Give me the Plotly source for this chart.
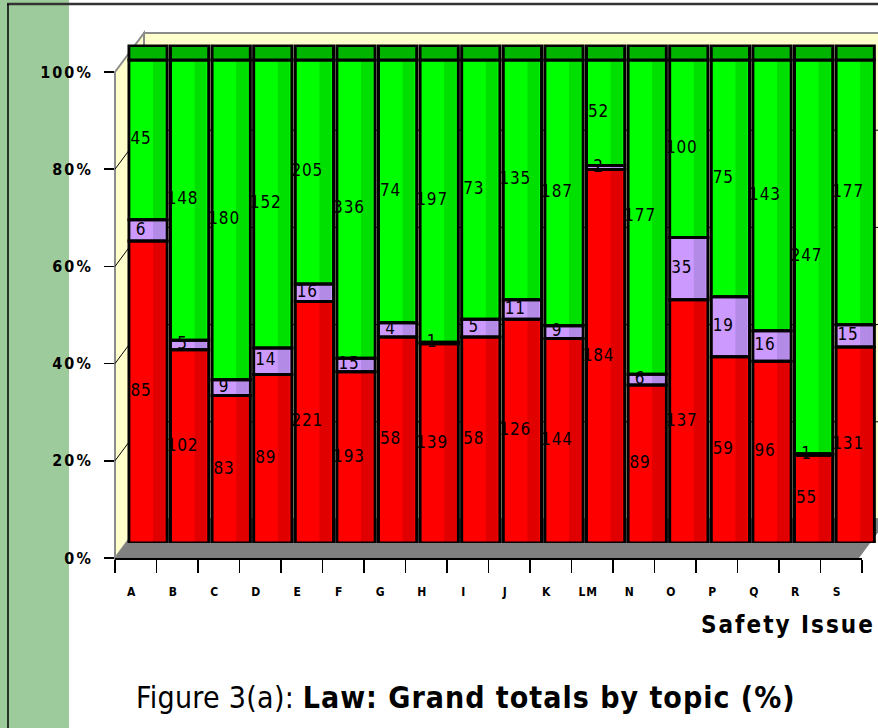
import plotly.graph_objects as go

# ---------------- data ----------------
categories = ["A", "B", "C", "D", "E", "F", "G", "H", "I", "J", "K", "LM",
              "N", "O", "P", "Q", "R", "S"]
red_vals = [85, 102, 83, 89, 221, 193, 58, 139, 58, 126, 144, 184, 89, 137, 59, 96, 55, 131]
lav_vals = [6, 5, 9, 14, 16, 15, 4, 1, 5, 11, 9, 2, 6, 35, 19, 16, 1, 15]
green_vals = [45, 148, 180, 152, 205, 336, 74, 197, 73, 135, 187, 52, 177, 100, 75, 143, 247, 177]
y_ticks = [0, 20, 40, 60, 80, 100]

W, H = 878, 728
NARROW = "DejaVu Sans Condensed, Liberation Sans Narrow, Arial Narrow, sans-serif"


def px(x):
    return x / W


def py(y):
    return 1 - y / H


def spaced(s, sp):
    return f'<span style="letter-spacing:{sp}px">{s}</span>'


n = len(categories)
idx = list(range(n))
totals = [r + l + g for r, l, g in zip(red_vals, lav_vals, green_vals)]
red_p = [r / t * 100 for r, t in zip(red_vals, totals)]
lav_p = [l / t * 100 for l, t in zip(lav_vals, totals)]
grn_p = [g / t * 100 for g, t in zip(green_vals, totals)]
lav_b = red_p
grn_b = [a + b for a, b in zip(red_p, lav_p)]

series = [
    (red_p, [0] * n, red_vals, "#ff0000", "#e00000"),
    (lav_p, lav_b, lav_vals, "#cc99ff", "#b38ae6"),
    (grn_p, grn_b, green_vals, "#00ff00", "#00e000"),
]

fig = go.Figure()
BW = 0.92
for vals, base, raw, col, dark in series:
    fig.add_trace(go.Bar(x=idx, y=vals, base=base, width=BW, marker=dict(color=col, line=dict(width=0)),
                         hoverinfo="skip", showlegend=False))
for vals, base, raw, col, dark in series:
    fig.add_trace(go.Bar(x=idx, y=vals, base=base, width=0.28, offset=0.12,
                         marker=dict(color=dark, line=dict(width=0)),
                         hoverinfo="skip", showlegend=False))
for vals, base, raw, col, dark in series:
    fig.add_trace(go.Bar(x=idx, y=vals, base=base, width=BW,
                         marker=dict(color="rgba(0,0,0,0)", line=dict(width=3, color="black")),
                         hoverinfo="skip", showlegend=False))
fig.add_trace(go.Bar(x=idx, y=[3.0] * n, base=[100] * n, width=BW,
                     marker=dict(color="#00b400", line=dict(width=3, color="black")),
                     hoverinfo="skip", showlegend=False))
for vals, base, raw, col, dark in series:
    fig.add_trace(go.Scatter(
        x=[i - 0.17 for i in idx], y=[b + v / 2 for b, v in zip(base, vals)],
        mode="text", text=[spaced(str(r), 0.8) for r in raw],
        textposition="middle center",
        textfont=dict(family=NARROW, size=17, color="black"),
        hoverinfo="skip", showlegend=False, cliponaxis=False))

fig.add_trace(go.Scatter(x=[None], y=[None], xaxis="x2", yaxis="y2", mode="markers",
                         showlegend=False, hoverinfo="skip"))

# ---------------- geometry ----------------
front_x0, front_y0, front_ytop = 115, 558, 72
dx, dy = 29, 39
ppp = (front_y0 - front_ytop) / 100.0
bar_y0 = 543
bar_ppp = 4.83
yr_top = 103.2

shapes = []
shapes.append(dict(type="rect", xref="paper", yref="paper", x0=0, x1=px(69), y0=0, y1=1,
                   fillcolor="#9ecb9b", line=dict(width=0), layer="below"))
shapes.append(dict(type="line", xref="paper", yref="paper", x0=px(7), x1=1, y0=py(4), y1=py(4),
                   line=dict(color="#333333", width=2.5), layer="above"))
shapes.append(dict(type="line", xref="paper", yref="paper", x0=px(8), x1=px(8), y0=py(4), y1=0,
                   line=dict(color="black", width=1.5), layer="above"))
shapes.append(dict(type="rect", xref="paper", yref="paper", x0=px(front_x0 + dx), x1=px(W + 5),
                   y0=py(front_y0 - dy), y1=py(front_ytop - dy),
                   fillcolor="#ffffcc", line=dict(color="#8c8c8c", width=2), layer="below"))
shapes.append(dict(type="path", xref="paper", yref="paper",
                   path=f"M{px(front_x0)},{py(front_ytop)} L{px(front_x0+dx)},{py(front_ytop-dy)} "
                        f"L{px(front_x0+dx)},{py(front_y0-dy)} L{px(front_x0)},{py(front_y0)} Z",
                   fillcolor="#ffffcc", line=dict(color="#8c8c8c", width=2), layer="below"))
shapes.append(dict(type="path", xref="paper", yref="paper",
                   path=f"M{px(front_x0)},{py(front_y0)} L{px(859)},{py(front_y0)} "
                        f"L{px(859+dx)},{py(front_y0-dy)} L{px(front_x0+dx)},{py(front_y0-dy)} Z",
                   fillcolor="#808080", line=dict(width=0), layer="below"))
for t in y_ticks[1:-1]:
    yf = front_y0 - ppp * t
    shapes.append(dict(type="line", xref="paper", yref="paper", x0=px(front_x0), y0=py(yf),
                       x1=px(front_x0 + dx), y1=py(yf - dy), line=dict(color="black", width=1), layer="below"))
    shapes.append(dict(type="line", xref="paper", yref="paper", x0=px(front_x0 + dx), y0=py(yf - dy),
                       x1=1, y1=py(yf - dy), line=dict(color="black", width=1), layer="below"))

slot = 41.6
bar_x0 = 148 - slot / 2
bar_x1 = bar_x0 + slot * n
fx_slot = 41.5
fx1 = front_x0 + fx_slot * n

fig.update_layout(
    width=W, height=H,
    margin=dict(l=0, r=0, t=0, b=0, autoexpand=False),
    paper_bgcolor="white", plot_bgcolor="rgba(0,0,0,0)",
    barmode="overlay",
    shapes=shapes,
    xaxis=dict(domain=[px(bar_x0), min(1, px(bar_x1))], range=[-0.5, -0.5 + (min(W, bar_x1) - bar_x0) / slot],
               visible=False, fixedrange=True, automargin=False),
    yaxis=dict(domain=[py(bar_y0), py(bar_y0 - bar_ppp * yr_top)], range=[0, yr_top],
               visible=False, fixedrange=True, automargin=False),
    xaxis2=dict(domain=[px(front_x0), px(fx1)], range=[-0.5, n - 0.5], anchor="y2",
                tickmode="array", tickvals=idx, ticktext=[spaced(c, 1) for c in categories],
                ticks="", showgrid=False, zeroline=False, automargin=False,
                showline=True, linecolor="black", linewidth=1.5,
                tickfont=dict(family=NARROW, size=12, color="black", weight="bold"),
                ticklabelstandoff=22, ticklabelshift=-4,
                minor=dict(tickmode="array", tickvals=[i - 0.5 for i in range(n + 1)],
                           ticks="outside", ticklen=13, tickwidth=1.2, tickcolor="black", showgrid=False)),
    yaxis2=dict(domain=[py(front_y0), py(front_ytop)], range=[0, 100], anchor="x2",
                tickmode="array", tickvals=y_ticks, ticktext=[spaced(f"{t}%", 2) for t in y_ticks],
                ticks="outside", ticklen=10, tickwidth=1.5, tickcolor="black",
                showgrid=False, zeroline=False, showline=False, automargin=False,
                tickfont=dict(family=NARROW, size=16, color="black", weight="bold"),
                ticklabelstandoff=8),
    annotations=[
        dict(xref="paper", yref="paper", x=px(877), y=py(625), xanchor="right", yanchor="middle",
             text="<b>" + spaced("Safety Issue", 2) + "</b>", showarrow=False,
             font=dict(family=NARROW, size=24, color="black")),
        dict(xref="paper", yref="paper", x=px(134), y=py(697), xanchor="left", yanchor="middle",
             text=spaced("Figure 3(a):", 0.3) + " <b>" + spaced("Law: Grand totals by topic (%)", 1) + "</b>",
             showarrow=False, font=dict(family=NARROW, size=30, color="black")),
    ],
)

post = ("var d=document.getElementById('{plot_id}');"
        "document.body.style.margin='0';document.body.style.overflow='hidden';"
        "d.style.position='fixed';d.style.left='0px';d.style.top='0px';")
fig.write_html("out.html", post_script=post, config={"displayModeBar": False, "staticPlot": True})
